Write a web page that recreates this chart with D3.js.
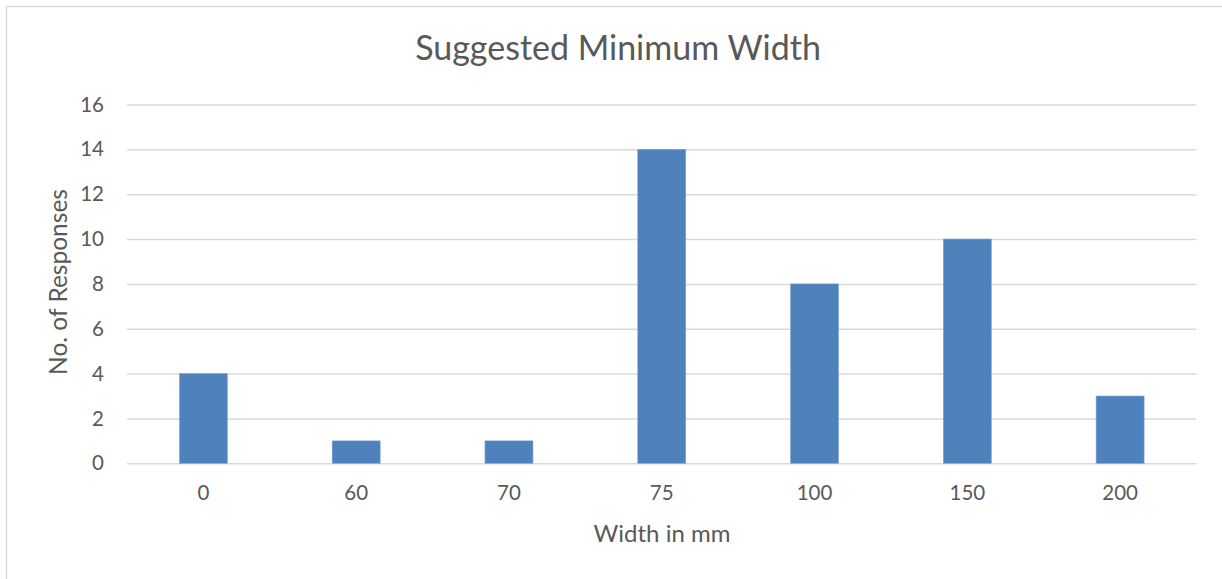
<!DOCTYPE html>
<html>
<head>
<meta charset="utf-8">
<script src="https://cdn.jsdelivr.net/npm/d3@7"></script>
<style>
  html, body { margin: 0; padding: 0; background: #fff; }
  svg { display: block; font-family: Lato, "Open Sans", sans-serif; }
</style>
</head>
<body>
<svg id="chart" width="1222" height="579"></svg>
<script>
// Survey answers: suggested minimum width (mm) and how many responses chose each
const widths = ["0", "60", "70", "75", "100", "150", "200"];
const responses = [4, 1, 1, 14, 8, 10, 3];
const yTicks = [0, 2, 4, 6, 8, 10, 12, 14, 16];

const title = "Suggested Minimum Width";
const xTitle = "Width in mm";
const yTitle = "No. of Responses";

const svg = d3.select("#chart");
const W = 1222, H = 579;
const plot = { left: 127, right: 1196.5, top: 104.5, bottom: 463.3 };
const textColor = "#595959";
const gridColor = "#d9d9d9";

// chart frame
svg.append("rect")
  .attr("x", 6.5).attr("y", 6.5)
  .attr("width", W + 10).attr("height", H + 10)
  .attr("fill", "#fff").attr("stroke", gridColor).attr("stroke-width", 1.3);

const x = d3.scaleBand()
  .domain(widths)
  .range([plot.left, plot.right])
  .paddingInner(0.686)
  .paddingOuter(0.343);

const y = d3.scaleLinear()
  .domain([0, 16])
  .range([plot.bottom, plot.top]);

// horizontal gridlines + y tick labels
const yAxis = d3.axisLeft(y)
  .tickValues(yTicks)
  .tickSize(-(plot.right - plot.left))
  .tickPadding(23);

const gy = svg.append("g")
  .attr("transform", `translate(${plot.left},0)`)
  .call(yAxis);
gy.select(".domain").remove();
gy.selectAll(".tick line").attr("stroke", gridColor).attr("stroke-width", 1.5);
gy.selectAll(".tick text")
  .attr("fill", textColor)
  .style("font-size", "20.5px")
  .style("font-family", "Lato, 'Open Sans', sans-serif");

// bars
svg.append("g")
  .selectAll("rect")
  .data(widths)
  .join("rect")
  .attr("x", d => x(d))
  .attr("width", x.bandwidth())
  .attr("y", (d, i) => y(responses[i]))
  .attr("height", (d, i) => y(0) - y(responses[i]))
  .attr("fill", "#4f81bd")
  .attr("stroke", "#7fa3d1")
  .attr("stroke-width", 0.6);

// category labels
const xAxis = d3.axisBottom(x).tickSize(0).tickPadding(22);
const gx = svg.append("g")
  .attr("transform", `translate(0,${plot.bottom})`)
  .call(xAxis);
gx.select(".domain").remove();
gx.selectAll(".tick text")
  .attr("fill", textColor)
  .style("font-size", "20.5px")
  .style("font-family", "Lato, 'Open Sans', sans-serif");

// titles
svg.append("text")
  .attr("x", 618).attr("y", 60)
  .attr("text-anchor", "middle")
  .attr("fill", textColor)
  .style("font-size", "34px")
  .text(title);

svg.append("text")
  .attr("x", 662).attr("y", 542)
  .attr("text-anchor", "middle")
  .attr("fill", textColor)
  .style("font-size", "24px")
  .text(xTitle);

svg.append("text")
  .attr("transform", `translate(67,282) rotate(-90)`)
  .attr("text-anchor", "middle")
  .attr("fill", textColor)
  .style("font-size", "24.5px")
  .text(yTitle);
</script>
</body>
</html>
